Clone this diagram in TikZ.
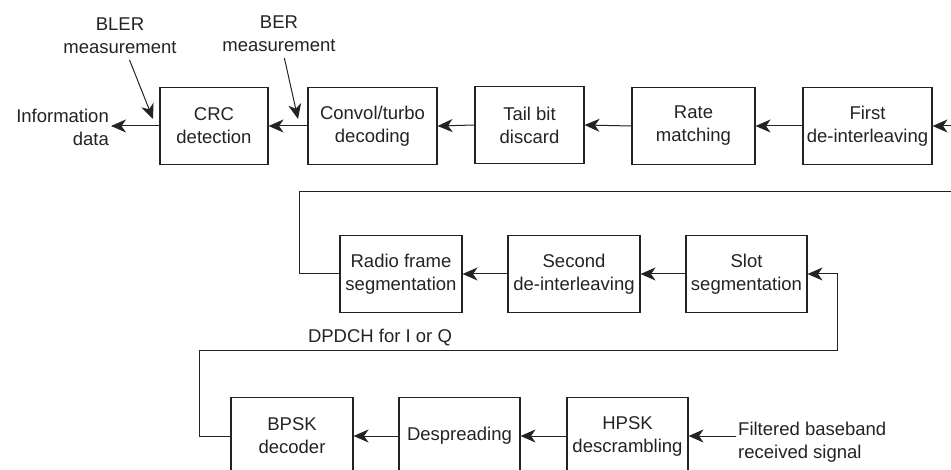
\documentclass[tikz,border=0pt]{standalone}
\usepackage{fontspec}
\setmainfont{Liberation Sans}
\usetikzlibrary{arrows.meta,positioning,calc}
\definecolor{InkGray}{RGB}{35,35,35}

\begin{document}
\begin{tikzpicture}[x=1pt,y=-1pt,>={Stealth[length=15pt,width=13pt,inset=4.5pt]},
    font=\fontsize{18.5}{23}\selectfont,
    blk/.style={draw=InkGray,line width=1.1pt,minimum height=77pt,inner sep=0pt,align=center,text=InkGray},
    flow/.style={->,InkGray,line width=1pt},
    wire/.style={InkGray,line width=1pt},
    lbl/.style={align=center,inner sep=2pt,text=InkGray}]
      \clip (0,0) rectangle (951,470);
      % top row
      \node[blk,minimum width=108pt] (crc) at (214,126) {CRC\\detection};
      \node[blk,minimum width=129pt] (conv) at (372.5,126) {Convol/turbo\\decoding};
      \node[blk,minimum width=109pt] (tail) at (529.5,125) {Tail bit\\discard};
      \node[blk,minimum width=123pt] (rate) at (693.5,126) {Rate\\matching};
      \node[blk,minimum width=129pt] (first) at (867.5,126) {First\\de-interleaving};
      \node[lbl,align=right,anchor=east] (info) at (111,127) {Information\\data};
      \node[lbl] (bler) at (120,36) {BLER\\measurement};
      \node[lbl] (ber) at (279,34) {BER\\measurement};
      \coordinate (blerhit) at (153,119);
      \coordinate (berhit) at (298,119);
      \coordinate (firstin) at (951,126);
      \draw[flow] (crc.west) -- (crc.west -| info.east);
      \draw[flow] (conv.west) -- (crc.east);
      \draw[flow] (tail.west) -- (conv.east);
      \draw[flow] (rate.west) -- (tail.east);
      \draw[flow] (first.west) -- (rate.east);
      \draw[flow] (firstin) -- (first.east);
      \draw[flow,shorten <=4pt] (bler) -- (blerhit);
      \draw[flow,shorten <=4pt] (ber) -- (berhit);
      % middle row
      \node[blk,minimum width=122pt] (radio) at (401,274) {Radio frame\\segmentation};
      \node[blk,minimum width=132pt] (second) at (574,274) {Second\\de-interleaving};
      \node[blk,minimum width=121pt] (slot) at (746.5,274) {Slot\\segmentation};
      \coordinate (wrapL) at (299,192);
      \coordinate (wrapR) at (951,192);
      \draw[wire] (radio.west) -| (wrapL) -- (wrapR);
      \draw[flow] (second.west) -- (radio.east);
      \draw[flow] (slot.west) -- (second.east);
      % bottom row
      \node[blk,minimum width=122pt] (bpsk) at (292,436) {BPSK\\decoder};
      \node[blk,minimum width=121pt] (desp) at (459.5,436) {Despreading};
      \node[blk,minimum width=121pt] (hpsk) at (627.5,436) {HPSK\\descrambling};
      \node[lbl,align=left,anchor=west] (rxsig) at (736,442) {Filtered baseband\\received signal};
      \node[lbl] (dpdch) at (380,338) {DPDCH for I or Q};
      \coordinate (loopL) at (199,351);
      \coordinate (loopR) at (837,351);
      \draw[flow] (bpsk.west) -| (loopL) -- (loopR) |- (slot.east);
      \draw[flow] (desp.west) -- (bpsk.east);
      \draw[flow] (hpsk.west) -- (desp.east);
      \draw[flow] (rxsig.west |- hpsk.east) -- (hpsk.east);
    \end{tikzpicture}
\end{document}
